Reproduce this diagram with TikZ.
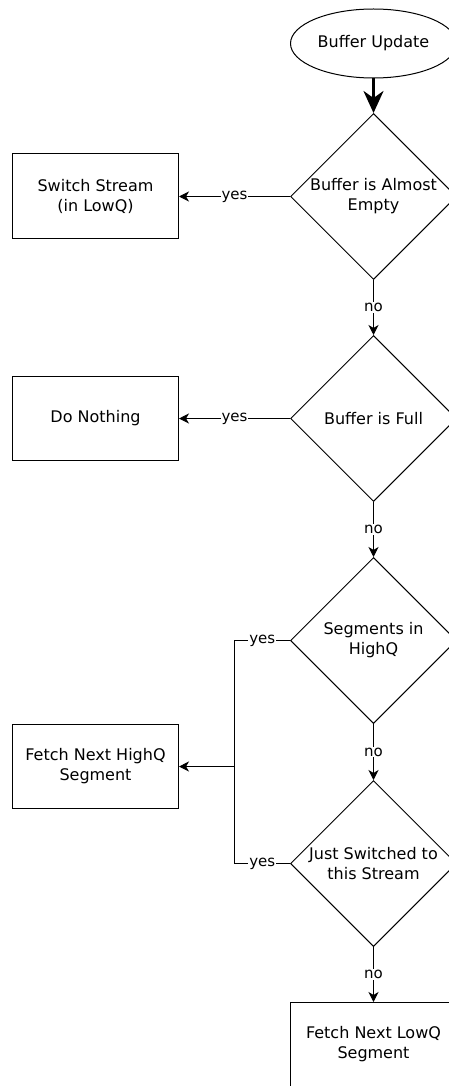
\documentclass[tikz,border=0pt]{standalone}
\usepackage{fontspec}
\setmainfont{DejaVu Sans}
\usetikzlibrary{arrows.meta,shapes.geometric}

\tikzset{
  box/.style={draw,rectangle,minimum width=166pt,minimum height=84pt,inner sep=0pt,align=center,font=\fontsize{16}{20}\selectfont},
  choice/.style={draw,diamond,minimum width=166pt,minimum height=166pt,inner sep=0pt,align=center,font=\fontsize{16}{20}\selectfont},
  startnode/.style={draw,ellipse,minimum width=166pt,minimum height=69pt,inner sep=0pt,font=\fontsize{16}{20}\selectfont},
  lbl/.style={fill=white,inner sep=1pt,font=\fontsize{15}{16}\selectfont},
  flow/.style={-{Stealth[length=10pt,width=10pt,inset=3pt]}},
  bigflow/.style={line width=3pt,-{Stealth[length=22pt,width=20pt,inset=7pt]}},
}

\begin{document}
\begin{tikzpicture}[x=1pt,y=-1pt,line width=1pt]
  \useasboundingbox (0,0) rectangle (449,1086);
  \clip (0,0) rectangle (449,1086);
  % main column
  \node[startnode] (update) at (373.5,43.5) {Buffer Update};
  \node[choice] (empty) at (373.5,196.5) {Buffer is Almost\\Empty};
  \node[choice] (full) at (373.5,418.5) {Buffer is Full};
  \node[choice] (highq) at (373.5,640.5) {Segments in\\HighQ};
  \node[choice] (switched) at (373.5,863.5) {Just Switched to\\this Stream};
  \node[box] (lowq) at (373.5,1044.5) {Fetch Next LowQ\\Segment};
  % left column
  \node[box] (switch) at (95.5,196) {Switch Stream\\(in LowQ)};
  \node[box] (nothing) at (95.5,418.5) {Do Nothing};
  \node[box] (fetchhq) at (95.5,766.5) {Fetch Next HighQ\\Segment};
  \coordinate (join) at (234.5,766.5);

  \draw[bigflow] (update) -- (empty);
  \draw[flow] (empty) -- node[lbl] {no} (full);
  \draw[flow] (full) -- node[lbl] {no} (highq);
  \draw[flow] (highq) -- node[lbl] {no} (switched);
  \draw[flow] (switched) -- node[lbl] {no} (lowq);
  \draw[flow] (empty.west) -- node[lbl] {yes} (switch.east |- empty.west);
  \draw[flow] (full.west) -- node[lbl] {yes} (nothing.east);
  \draw[flow] (highq.west) -- node[lbl] {yes} (highq.west -| join) -- (join) -- (fetchhq.east);
  \draw (switched.west) -- node[lbl] {yes} (switched.west -| join) -- (join);
\end{tikzpicture}
\end{document}
